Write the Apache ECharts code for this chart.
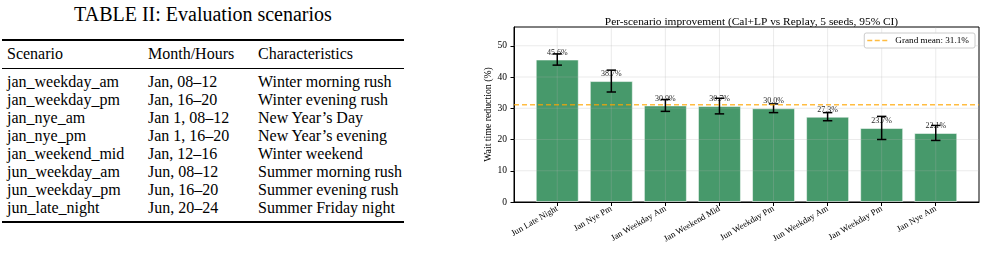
<!DOCTYPE html>
<html>
<head>
<meta charset="utf-8">
<script src="https://cdn.jsdelivr.net/npm/echarts@6.0.0/dist/echarts.min.js"></script>
<style>
  html, body { margin: 0; padding: 0; background: #fff; }
  body { width: 986px; height: 254px; position: relative; overflow: hidden; font-family: 'Liberation Serif', 'DejaVu Serif', serif; }
  #tbl { position: absolute; left: 0; top: 0; width: 420px; height: 254px; color: #000; }
  #tbl .t { position: absolute; white-space: nowrap; line-height: 18px; font-size: 16px; }
  #tbl .rule { position: absolute; left: 2px; width: 402px; background: #000; }
  #chart { position: absolute; left: 440px; top: 0; width: 546px; height: 254px; }
</style>
</head>
<body>
<div id="tbl"></div>
<div id="chart"></div>
<script>
// table II
const tableTitle = 'TABLE II: Evaluation scenarios'
const tableHeader = ['Scenario', 'Month/Hours', 'Characteristics']
const scenarioIds = ['jan_weekday_am', 'jan_weekday_pm', 'jan_nye_am', 'jan_nye_pm', 'jan_weekend_mid', 'jun_weekday_am', 'jun_weekday_pm', 'jun_late_night']
const monthHours = ['Jan, 08–12', 'Jan, 16–20', 'Jan 1, 08–12', 'Jan 1, 16–20', 'Jan, 12–16', 'Jun, 08–12', 'Jun, 16–20', 'Jun, 20–24']
const characteristics = ['Winter morning rush', 'Winter evening rush', 'New Year’s Day', 'New Year’s evening', 'Winter weekend', 'Summer morning rush', 'Summer evening rush', 'Summer Friday night']

// chart
const scenarios = ['Jun Late Night', 'Jan Nye Pm', 'Jan Weekday Am', 'Jan Weekend Mid', 'Jun Weekday Pm', 'Jun Weekday Am', 'Jan Weekday Pm', 'Jan Nye Am']
const improvement = [45.6, 38.7, 30.9, 30.7, 30.0, 27.3, 23.7, 22.1]
const ciHalf = [1.8, 3.5, 1.9, 2.5, 1.4, 1.3, 3.7, 2.4]
const grandMean = 31.1
const yTicks = [0, 10, 20, 30, 40, 50]

const serif = "'Liberation Serif', 'DejaVu Serif', serif"
const xMin = -0.8, xMax = 7.8
const yMin = 0, yMax = 56
const gridColor = 'rgba(176,176,176,0.32)'

// --- table ---
const tbl = document.getElementById('tbl')
function addText(txt, x, y, size) {
    const d = document.createElement('div')
    d.className = 't'
    d.textContent = txt
    d.style.left = x + 'px'
    d.style.top = y + 'px'
    if (size) { d.style.fontSize = size + 'px'; d.style.lineHeight = (size + 2) + 'px' }
    tbl.appendChild(d)
    return d
}
function addRule(y, h) {
    const r = document.createElement('div')
    r.className = 'rule'
    r.style.top = y + 'px'
    r.style.height = h + 'px'
    tbl.appendChild(r)
}
const title = addText(tableTitle, 0, 3, 20)
title.style.width = '406px'
title.style.textAlign = 'center'

const colX = [7, 148, 258]
addRule(39, 2)
tableHeader.forEach((h, i) => addText(h, colX[i], 45))
addRule(68, 1)
scenarioIds.forEach((s, i) => {
    const y = 73 + i * 18
    addText(s, colX[0], y)
    addText(monthHours[i], colX[1], y)
    addText(characteristics[i], colX[2], y)
})
addRule(221, 2)

// --- chart ---
const Mychart = echarts.init(document.getElementById('chart'))
const idx = scenarios.map((_, i) => i)
const meanName = 'Grand mean: ' + grandMean.toFixed(1) + '%'

function gridLine(a, b) {
    return { type: 'line', shape: { x1: a[0], y1: a[1], x2: b[0], y2: b[1] }, style: { stroke: gridColor, lineWidth: 0.8 } }
}

Mychart.setOption({
    animation: false,
    title: {
        text: 'Per-scenario improvement (Cal+LP vs Replay, 5 seeds, 95% CI)',
        left: 306.5,
        top: 12,
        textAlign: 'center',
        textStyle: { fontFamily: serif, fontSize: 11.4, fontWeight: 'normal', color: '#000' }
    },
    grid: {
        left: 74, right: 7, top: 27, bottom: 52,
        show: true, borderColor: '#000', borderWidth: 1
    },
    legend: {
        data: [{ name: meanName, icon: 'path://M0,0h5v1.5h-5z M7.5,0h5v1.5h-5z M15,0h5v1.5h-5z' }],
        right: 11, top: 33,
        padding: [3, 6, 3, 3],
        itemWidth: 20, itemHeight: 1.5, itemGap: 4,
        borderColor: '#cccccc', borderWidth: 1, borderRadius: 2,
        backgroundColor: '#fff',
        textStyle: { fontFamily: serif, fontSize: 9.2, color: '#000', padding: [0, 0, 0, 3] }
    },
    xAxis: {
        type: 'value',
        min: xMin,
        max: xMax,
        axisLine: { show: true, onZero: false, lineStyle: { color: '#000', width: 1 } },
        axisTick: { show: true, customValues: idx, length: 4, lineStyle: { color: '#000' } },
        axisLabel: {
            customValues: idx,
            formatter: v => scenarios[Math.round(v)],
            rotate: 30,
            margin: 6,
            fontFamily: serif, fontSize: 8.8, color: '#000'
        },
        splitLine: { show: false }
    },
    yAxis: {
        type: 'value',
        min: yMin,
        max: yMax,
        interval: 10,
        name: 'Wait time reduction (%)',
        nameLocation: 'middle',
        nameGap: 21,
        nameMoveOverlap: false,
        nameTextStyle: { fontFamily: serif, fontSize: 9.8, color: '#000' },
        axisLine: { show: true, onZero: false, lineStyle: { color: '#000', width: 1 } },
        axisTick: { show: true, customValues: yTicks, length: 3.5, lineStyle: { color: '#000' } },
        axisLabel: { customValues: yTicks, margin: 7, fontFamily: serif, fontSize: 9.5, color: '#000' },
        splitLine: { show: false }
    },
    series: [
        {
            type: 'bar',
            z: 2,
            barWidth: 43,
            data: idx.map(i => [i, improvement[i]]),
            itemStyle: { color: '#2E8B57', opacity: 0.88, borderColor: 'rgba(255,255,255,0.6)', borderWidth: 1 },
            label: {
                show: true,
                position: 'top',
                distance: 3,
                formatter: p => p.value[1].toFixed(1) + '%',
                fontFamily: serif, fontSize: 8, color: '#000'
            }
        },
        {
            // vertical grid lines (over the bars, as in matplotlib)
            type: 'custom',
            z: 3,
            silent: true,
            data: idx.map(i => [i, yMin]),
            encode: { x: 0, y: 1 },
            renderItem: (params, api) => gridLine(api.coord([api.value(0), yMin]), api.coord([api.value(0), yMax]))
        },
        {
            // horizontal grid lines
            type: 'custom',
            z: 3,
            silent: true,
            data: yTicks.slice(1).map(t => [xMin, t]),
            encode: { x: 0, y: 1 },
            renderItem: (params, api) => gridLine(api.coord([xMin, api.value(1)]), api.coord([xMax, api.value(1)]))
        },
        {
            type: 'custom',
            z: 4,
            data: idx.map(i => [i, improvement[i] - ciHalf[i], improvement[i] + ciHalf[i]]),
            encode: { x: 0, y: [1, 2] },
            renderItem: (params, api) => {
                const lo = api.coord([api.value(0), api.value(1)])
                const hi = api.coord([api.value(0), api.value(2)])
                const cap = 4.7
                const st = { stroke: '#000', lineWidth: 1.5 }
                return {
                    type: 'group',
                    children: [
                        { type: 'line', shape: { x1: lo[0], y1: lo[1], x2: hi[0], y2: hi[1] }, style: st },
                        { type: 'line', shape: { x1: lo[0] - cap, y1: lo[1], x2: lo[0] + cap, y2: lo[1] }, style: st },
                        { type: 'line', shape: { x1: hi[0] - cap, y1: hi[1], x2: hi[0] + cap, y2: hi[1] }, style: st }
                    ]
                }
            }
        },
        {
            name: meanName,
            type: 'line',
            z: 5,
            symbol: 'none',
            data: [[xMin, grandMean], [xMax, grandMean]],
            lineStyle: { color: '#FFA500', opacity: 0.75, width: 1.5, type: [5, 3] },
            itemStyle: { color: '#FFA500', opacity: 0.75 }
        }
    ]
})
</script>
</body>
</html>
